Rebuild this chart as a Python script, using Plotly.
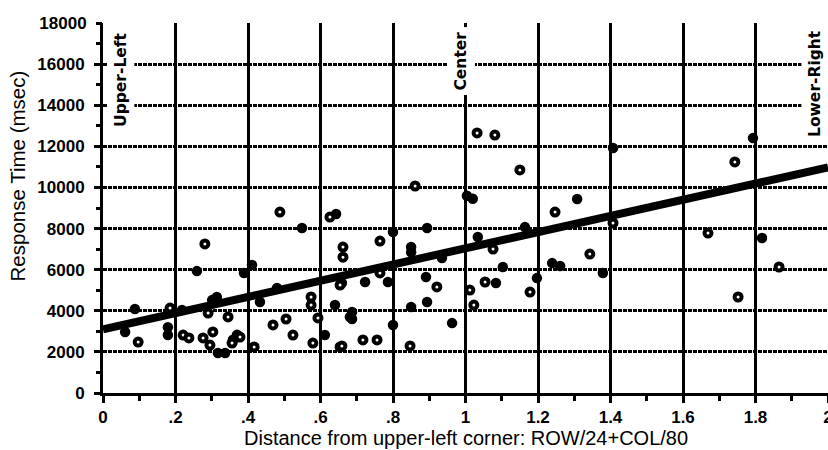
import plotly.graph_objects as go

# Response time vs. screen distance from the upper-left corner
# Open-ring observations
open_x = [0.281, 0.097, 0.185, 0.221, 0.237, 0.290, 0.276, 0.295, 0.303, 0.345,
          0.359, 0.370, 0.378, 0.356, 0.417, 0.469, 0.505, 0.524, 0.574, 0.574,
          0.579, 0.593, 0.654, 0.654, 0.662, 0.662, 0.488, 0.626, 1.032, 1.081,
          1.150, 0.861, 1.247, 0.764, 1.076, 0.921, 0.764, 1.012, 1.023, 1.054,
          1.178, 1.343, 0.659, 0.717, 0.756, 0.847, 1.743, 1.407, 1.669, 1.752,
          1.865]
open_y = [7250, 2480, 4130, 2820, 2680, 3890, 2680, 2330, 2970, 3700,
          2580, 2820, 2720, 2430, 2240, 3310, 3600, 2820, 4670, 4280,
          2430, 3650, 2240, 5250, 7100, 6610, 8800, 8560, 12650, 12550,
          10850, 10070, 8800, 7390, 7000, 5160, 5840, 5010, 4280, 5400,
          4910, 6760, 2290, 2580, 2580, 2290, 11240, 8270, 7780, 4670,
          6130]

# Solid-dot observations
solid_x = [0.259, 0.411, 0.389, 0.088, 0.061, 0.179, 0.218, 0.301, 0.314, 0.317,
           0.337, 0.433, 0.480, 0.612, 0.640, 0.681, 0.549, 0.643, 1.004, 1.020,
           1.308, 0.894, 0.800, 0.850, 1.164, 1.034, 0.935, 1.103, 0.891, 0.850,
           0.894, 0.723, 0.786, 0.659, 0.687, 0.800, 0.963, 1.084, 1.197, 1.239,
           1.261, 1.407, 1.793, 1.818, 1.379, 0.179, 0.687, 0.850]
solid_y = [5930, 6230, 5840, 4090, 2970, 2820, 4040, 4520, 4670, 1950,
           1950, 4430, 5110, 2820, 4280, 3700, 8030, 8710, 9600, 9450,
           9440, 8030, 7830, 7100, 8070, 7590, 6570, 6130, 5640, 4180,
           4430, 5400, 5400, 5350, 3940, 3310, 3400, 5350, 5590, 6320,
           6180, 11920, 12400, 7540, 5840, 3200, 3600, 6850]

# Fitted regression line end points
fit_x = [0.0, 2.0]
fit_y = [3100, 10980]

# Axis ticks
x_ticks = [0, 0.2, 0.4, 0.6, 0.8, 1.0, 1.2, 1.4, 1.6, 1.8, 2.0]
x_tick_text = ["0", ".2", ".4", ".6", ".8", "1", "1.2", "1.4", "1.6", "1.8", "2"]
x_minor = [0.1, 0.3, 0.5, 0.7, 0.9, 1.1, 1.3, 1.5, 1.7, 1.9]
y_ticks = [0, 2000, 4000, 6000, 8000, 10000, 12000, 14000, 16000]
y_top_tick = [18000]
y_minor = [1000, 3000, 5000, 7000, 9000, 11000, 13000, 15000, 17000]

# Screen-position markers
region_labels = ["Upper-Left", "Center", "Lower-Right"]
region_x = [0.048, 0.989, 1.964]
region_y = [15250, 16150, 15080]

TICK_FONT = dict(family="Liberation Sans", size=17, color="black", weight="bold")

fig = go.Figure()

fig.add_trace(go.Scatter(
    x=solid_x, y=solid_y, mode="markers",
    marker=dict(symbol="circle", size=10.5, color="black", line=dict(width=0)),
    showlegend=False,
))
fig.add_trace(go.Scatter(
    x=open_x, y=open_y, mode="markers",
    marker=dict(symbol="circle", size=7, color="white",
                line=dict(color="black", width=4)),
    showlegend=False,
))
# regression line lives on the overlay axis that carries the top tick label
fig.add_trace(go.Scatter(
    x=fit_x, y=fit_y, mode="lines", yaxis="y2",
    line=dict(color="black", width=8),
    hoverinfo="skip", showlegend=False,
))

for text, xv, yv in zip(region_labels, region_x, region_y):
    fig.add_annotation(
        x=xv, y=yv, xref="x", yref="y", text=text, textangle=-90,
        showarrow=False, xanchor="center", yanchor="middle",
        bgcolor="white", borderpad=4,
        font=dict(family="DejaVu Sans", size=15.5, color="black", weight="bold"),
    )

fig.add_annotation(
    x=-0.1166, y=0.5865, xref="paper", yref="paper",
    text="Response Time (msec)", textangle=-90, showarrow=False,
    xanchor="center", yanchor="middle",
    font=dict(family="Liberation Sans", size=20.5, color="black"),
)
fig.add_annotation(
    x=0.5, y=-0.1216, xref="paper", yref="paper",
    text="Distance from upper-left corner: ROW/24+COL/80", showarrow=False,
    xanchor="center", yanchor="middle",
    font=dict(family="Liberation Sans", size=20, color="black"),
)

fig.update_layout(
    width=828, height=450,
    margin=dict(l=103, r=0, t=23, b=57, autoexpand=False),
    paper_bgcolor="white", plot_bgcolor="white",
    showlegend=False,
    xaxis=dict(
        range=[0, 2], tickmode="array", tickvals=x_ticks, ticktext=x_tick_text,
        showgrid=True, gridcolor="black", gridwidth=3,
        showline=True, linecolor="black", linewidth=3,
        ticks="outside", ticklen=7, tickwidth=3, tickcolor="black",
        tickfont=TICK_FONT, ticklabeloverflow="allow", automargin=False,
        zeroline=False, fixedrange=True,
        minor=dict(tickmode="array", tickvals=x_minor, ticks="outside",
                   ticklen=5, tickwidth=3, tickcolor="black", showgrid=False),
    ),
    yaxis=dict(
        range=[0, 18000], tickmode="array", tickvals=y_ticks,
        ticktext=[str(v) for v in y_ticks],
        showgrid=True, gridcolor="black", gridwidth=3, griddash="4px,1px",
        showline=True, linecolor="black", linewidth=3,
        ticks="outside", ticklen=6, tickwidth=3, tickcolor="black",
        tickfont=TICK_FONT, ticklabelstandoff=6, automargin=False,
        zeroline=False, fixedrange=True,
        minor=dict(tickmode="array", tickvals=y_minor, ticks="outside",
                   ticklen=4, tickwidth=3, tickcolor="black", showgrid=False),
    ),
    yaxis2=dict(
        overlaying="y", side="left", range=[0, 18000],
        tickmode="array", tickvals=y_top_tick,
        ticktext=[str(v) for v in y_top_tick],
        showgrid=False, showline=False, zeroline=False,
        ticks="outside", ticklen=6, tickwidth=3, tickcolor="black",
        tickfont=TICK_FONT, ticklabelstandoff=6, automargin=False,
        fixedrange=True,
    ),
)

fig.write_html("out.html")
